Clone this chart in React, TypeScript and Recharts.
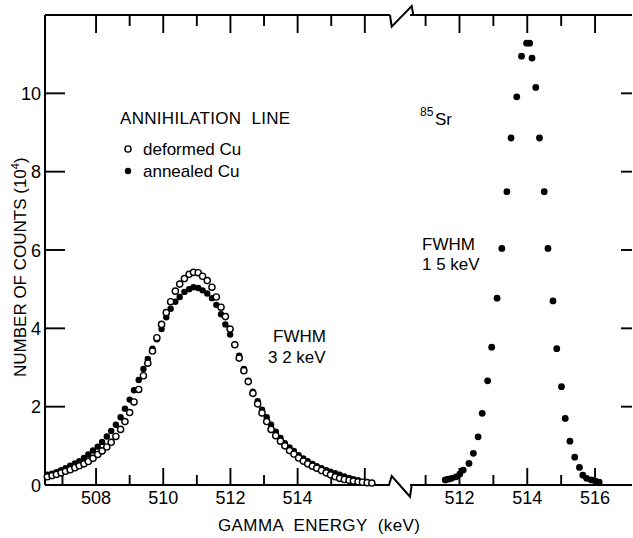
import React from 'react';
import { ScatterChart, Scatter, XAxis, YAxis } from 'recharts';

// ---------- data ----------
const annihilationEnergy = [
  506.55, 506.69, 506.82, 506.96, 507.09, 507.23, 507.37, 507.50, 507.64, 507.77,
  507.91, 508.05, 508.18, 508.32, 508.45, 508.59, 508.73, 508.86, 509.00, 509.13,
  509.27, 509.41, 509.54, 509.68, 509.81, 509.95, 510.09, 510.22, 510.36, 510.49,
  510.63, 510.77, 510.90, 511.04, 511.17, 511.31, 511.45, 511.58, 511.72, 511.85,
  511.99, 512.13, 512.26, 512.40, 512.53, 512.67, 512.81, 512.94, 513.08, 513.21,
  513.35, 513.49, 513.62, 513.76, 513.89, 514.03, 514.17, 514.30, 514.44, 514.57,
  514.71, 514.85, 514.98, 515.12, 515.25, 515.39, 515.53, 515.66, 515.80, 515.93,
  516.07, 516.21,
];

const deformedCu = [
  0.21, 0.24, 0.27, 0.31, 0.35, 0.39, 0.44, 0.49, 0.54, 0.60,
  0.68, 0.78, 0.87, 0.97, 1.09, 1.24, 1.42, 1.62, 1.85, 2.12,
  2.44, 2.79, 3.11, 3.42, 3.76, 4.10, 4.40, 4.68, 4.95, 5.13,
  5.27, 5.38, 5.43, 5.42, 5.33, 5.22, 5.05, 4.80, 4.54, 4.30,
  3.98, 3.58, 3.24, 2.92, 2.64, 2.34, 2.07, 1.84, 1.62, 1.42,
  1.26, 1.12, 1.00, 0.88, 0.79, 0.69, 0.61, 0.54, 0.48, 0.43,
  0.37, 0.31, 0.26, 0.21, 0.17, 0.14, 0.12, 0.10, 0.08, 0.07,
  0.06, 0.05,
];

const annealedCu = [
  0.26, 0.29, 0.33, 0.38, 0.43, 0.49, 0.55, 0.61, 0.69, 0.78,
  0.88, 0.98, 1.10, 1.24, 1.38, 1.54, 1.73, 1.95, 2.18, 2.42,
  2.68, 2.96, 3.22, 3.48, 3.72, 3.98, 4.28, 4.50, 4.68, 4.80,
  4.93, 5.00, 5.05, 5.03, 4.97, 4.89, 4.77, 4.60, 4.36, 4.10,
  3.84, 3.58, 3.30, 2.96, 2.66, 2.38, 2.14, 1.92, 1.73, 1.54,
  1.36, 1.20, 1.07, 0.96, 0.87, 0.76, 0.68, 0.61, 0.54, 0.48,
  0.43, 0.38, 0.34, 0.30, 0.26, 0.22, 0.18, 0.15, 0.12,
];

const srEnergy = [
  511.58, 511.67, 511.77, 511.90, 512.01, 512.11, 512.28, 512.41, 512.55, 512.67,
  512.83, 512.95, 513.11, 513.25, 513.40, 513.52, 513.69, 513.83, 513.98, 514.07,
  514.14, 514.25, 514.36, 514.50, 514.61, 514.76, 514.87, 515.01, 515.12, 515.26,
  515.40, 515.54, 515.64, 515.75, 515.89, 516.01, 516.12,
];

const srCounts = [
  0.13, 0.15, 0.17, 0.21, 0.28, 0.38, 0.55, 0.81, 1.23, 1.83,
  2.66, 3.52, 4.77, 6.04, 7.49, 8.86, 9.91, 10.95, 11.28, 11.28,
  10.90, 10.15, 8.86, 7.49, 6.04, 4.70, 3.48, 2.51, 1.70, 1.12,
  0.71, 0.45, 0.25, 0.17, 0.13, 0.10, 0.07,
];

const yTicks = [0, 2, 4, 6, 8, 10];
const yInnerTicks = [2, 4, 6, 8, 10];
const leftBottomTicks = [507, 508, 509, 510, 511, 512, 513, 514, 515, 516];
const leftTopTicks = [508, 509, 510, 511, 512, 513, 514, 515, 516];
const rightTicks = [511, 512, 513, 514, 515, 516];
const leftLabels = [508, 510, 512, 514];
const rightLabels = [512, 514, 516];

const leftDomain: [number, number] = [506.48, 516.75];
const rightDomain: [number, number] = [510.54, 517.09];
const yDomain: [number, number] = [0, 12];

// ---------- layout / styling ----------
const INK = '#000';
const FONT = '"Liberation Sans", Arial, sans-serif';
const W = 633;
const H = 538;
const TICK_FS = 18;
const AXIS_LINE = { stroke: INK, strokeWidth: 2 };

const PLOT_TOP = 15;
const PLOT_BOTTOM = 485;
const LEFT_X0 = 45;
const LEFT_X1 = 390;
const RIGHT_CHART_LEFT = 400;
const RIGHT_X0 = 410;
const RIGHT_X1 = 632;

const isMajor = (v: number) => v % 2 === 0;

const deformedData = deformedCu.map((c, i) => ({ e: annihilationEnergy[i], c }));
const annealedData = annealedCu.map((c, i) => ({ e: annihilationEnergy[i], c }));
const srData = srCounts.map((c, i) => ({ e: srEnergy[i], c }));

// inward frame tick marks, placed through the chart scales at the frame edges
// dx/dy: direction into the frame, len: length in px
const leftTickMarks = [
  ...leftBottomTicks.map((v) => ({ e: v, c: yDomain[0], dx: 0, dy: -1, len: isMajor(v) ? 17 : 10 })),
  ...leftTopTicks.map((v) => ({ e: v, c: yDomain[1], dx: 0, dy: 1, len: isMajor(v) ? 18 : 11 })),
  ...yInnerTicks.map((v) => ({ e: leftDomain[0], c: v, dx: 1, dy: 0, len: 20 })),
];
const rightTickMarks = [
  ...rightTicks.map((v) => ({ e: v, c: yDomain[0], dx: 0, dy: -1, len: isMajor(v) ? 17 : 10 })),
  ...rightTicks.map((v) => ({ e: v, c: yDomain[1], dx: 0, dy: 1, len: isMajor(v) ? 18 : 11 })),
  ...yInnerTicks.map((v) => ({ e: rightDomain[1], c: v, dx: -1, dy: 0, len: 11 })),
];

const TickMark = (p: any) => {
  const { dx, dy, len } = p.payload;
  const x = Number(p.cx);
  const y = Number(p.cy);
  const hw = 0.95;
  let d: string;
  if (dx === 0) {
    const y2 = y + dy * len;
    d = `M ${x - hw} ${y} L ${x + hw} ${y} L ${x + hw} ${y2} L ${x - hw} ${y2} Z`;
  } else {
    const x2 = x + dx * len;
    d = `M ${x} ${y - hw} L ${x} ${y + hw} L ${x2} ${y + hw} L ${x2} ${y - hw} Z`;
  }
  return <path d={d} fill={INK} stroke="none" />;
};

const makeBottomLabel = (labels: number[]) => (p: any) => {
  const v = Number(p.payload.value);
  if (!labels.includes(v)) return <g />;
  return (
    <text x={p.x} y={Number(p.y) + 19} textAnchor="middle" fontSize={TICK_FS} fill={INK} fontFamily={FONT}>
      {v}
    </text>
  );
};
const NoLabel = () => <g />;
const LeftYLabel = (p: any) => (
  <text x={Number(p.x) - 4} y={Number(p.y) + 6.5} textAnchor="end" fontSize={TICK_FS} fill={INK} fontFamily={FONT}>
    {p.payload.value}
  </text>
);

const OpenDot = (p: any) => (
  <circle cx={p.cx} cy={p.cy} r={3.1} fill="#fff" stroke={INK} strokeWidth={1.4} />
);
const FilledDot = (p: any) => <circle cx={p.cx} cy={p.cy} r={3.2} fill={INK} />;
const SrDot = (p: any) => <circle cx={p.cx} cy={p.cy} r={3.4} fill={INK} />;

export default function App() {
  return (
    <div style={{ position: 'absolute', left: 0, top: 0, width: W, height: H, background: '#fff' }}>
      {/* left segment: annihilation line */}
      <div style={{ position: 'absolute', left: 0, top: 0 }}>
        <ScatterChart width={LEFT_X1 + 10} height={H} margin={{ top: 0, right: 10, bottom: 0, left: 0 }}>
          <XAxis
            xAxisId="b"
            dataKey="e"
            type="number"
            domain={leftDomain}
            ticks={leftBottomTicks}
            interval={0}
            height={H - PLOT_BOTTOM}
            axisLine={AXIS_LINE}
            tickLine={false}
            tickSize={0}
            tickMargin={0}
            tick={makeBottomLabel(leftLabels)}
          />
          <XAxis
            xAxisId="t"
            orientation="top"
            dataKey="e"
            type="number"
            domain={leftDomain}
            ticks={leftTopTicks}
            interval={0}
            height={PLOT_TOP}
            axisLine={AXIS_LINE}
            tickLine={false}
            tickSize={0}
            tickMargin={0}
            tick={NoLabel}
          />
          <YAxis
            yAxisId="y"
            dataKey="c"
            type="number"
            domain={yDomain}
            ticks={yTicks}
            interval={0}
            width={LEFT_X0}
            axisLine={AXIS_LINE}
            tickLine={false}
            tickSize={0}
            tickMargin={0}
            tick={LeftYLabel}
          />
          <Scatter name="frame ticks" data={leftTickMarks} xAxisId="b" yAxisId="y" shape={TickMark} isAnimationActive={false} />
          <Scatter name="annealed Cu" data={annealedData} xAxisId="b" yAxisId="y" shape={FilledDot} isAnimationActive={false} />
          <Scatter name="deformed Cu" data={deformedData} xAxisId="b" yAxisId="y" shape={OpenDot} isAnimationActive={false} />
        </ScatterChart>
      </div>

      {/* right segment: 85Sr line */}
      <div style={{ position: 'absolute', left: RIGHT_CHART_LEFT, top: 0 }}>
        <ScatterChart width={W - RIGHT_CHART_LEFT} height={H} margin={{ top: 0, right: 0, bottom: 0, left: RIGHT_X0 - RIGHT_CHART_LEFT }}>
          <XAxis
            xAxisId="b"
            dataKey="e"
            type="number"
            domain={rightDomain}
            ticks={rightTicks}
            interval={0}
            height={H - PLOT_BOTTOM}
            axisLine={AXIS_LINE}
            tickLine={false}
            tickSize={0}
            tickMargin={0}
            tick={makeBottomLabel(rightLabels)}
          />
          <XAxis
            xAxisId="t"
            orientation="top"
            dataKey="e"
            type="number"
            domain={rightDomain}
            ticks={rightTicks}
            interval={0}
            height={PLOT_TOP}
            axisLine={AXIS_LINE}
            tickLine={false}
            tickSize={0}
            tickMargin={0}
            tick={NoLabel}
          />
          <YAxis
            yAxisId="r"
            orientation="right"
            dataKey="c"
            type="number"
            domain={yDomain}
            ticks={yInnerTicks}
            interval={0}
            width={W - RIGHT_X1}
            axisLine={false}
            tickLine={false}
            tickSize={0}
            tickMargin={0}
            tick={NoLabel}
          />
          <Scatter name="frame ticks" data={rightTickMarks} xAxisId="b" yAxisId="r" shape={TickMark} isAnimationActive={false} />
          <Scatter name="85Sr" data={srData} xAxisId="b" yAxisId="r" shape={SrDot} isAnimationActive={false} />
        </ScatterChart>
      </div>

      <svg
        width={W}
        height={H}
        style={{ position: 'absolute', left: 0, top: 0, pointerEvents: 'none' }}
        fontFamily={FONT}
        fill={INK}
      >
        {/* axis break marks */}
        <path d="M 389 485 L 391.7 476 L 410 496.7 L 411.7 485" fill="none" stroke={INK} strokeWidth={2} />
        <path d="M 390 15 L 391.7 26.7 L 411.7 6 L 413.3 15" fill="none" stroke={INK} strokeWidth={2} />

        {/* legend block */}
        <text x={120} y={124} fontSize={17} letterSpacing={0.3} style={{ whiteSpace: 'pre' }}>ANNIHILATION  LINE</text>
        <circle cx={128} cy={149} r={3.1} fill="#fff" stroke={INK} strokeWidth={1.4} />
        <text x={143} y={155} fontSize={17}>deformed Cu</text>
        <circle cx={128} cy={171} r={3.2} fill={INK} />
        <text x={143} y={177} fontSize={17}>annealed Cu</text>

        {/* annotations */}
        <text x={273} y={342} fontSize={17}>FWHM</text>
        <text x={268} y={363} fontSize={17} style={{ whiteSpace: 'pre' }}>3 2 keV</text>
        <text x={420} y={116} fontSize={12}>85</text>
        <text x={435} y={125} fontSize={17}>Sr</text>
        <text x={422} y={250} fontSize={17}>FWHM</text>
        <text x={422} y={270} fontSize={17} style={{ whiteSpace: 'pre' }}>1 5 keV</text>

        {/* axis titles */}
        <text x={218} y={531} fontSize={17} letterSpacing={0.4} style={{ whiteSpace: 'pre' }}>
          GAMMA  ENERGY  (keV)
        </text>
        <text transform="translate(26 377) rotate(-90)" fontSize={17} style={{ whiteSpace: 'pre' }}>
          NUMBER OF COUNTS (10<tspan dy={-7} fontSize={11}>4</tspan><tspan dy={7}>)</tspan>
        </text>
      </svg>
    </div>
  );
}
